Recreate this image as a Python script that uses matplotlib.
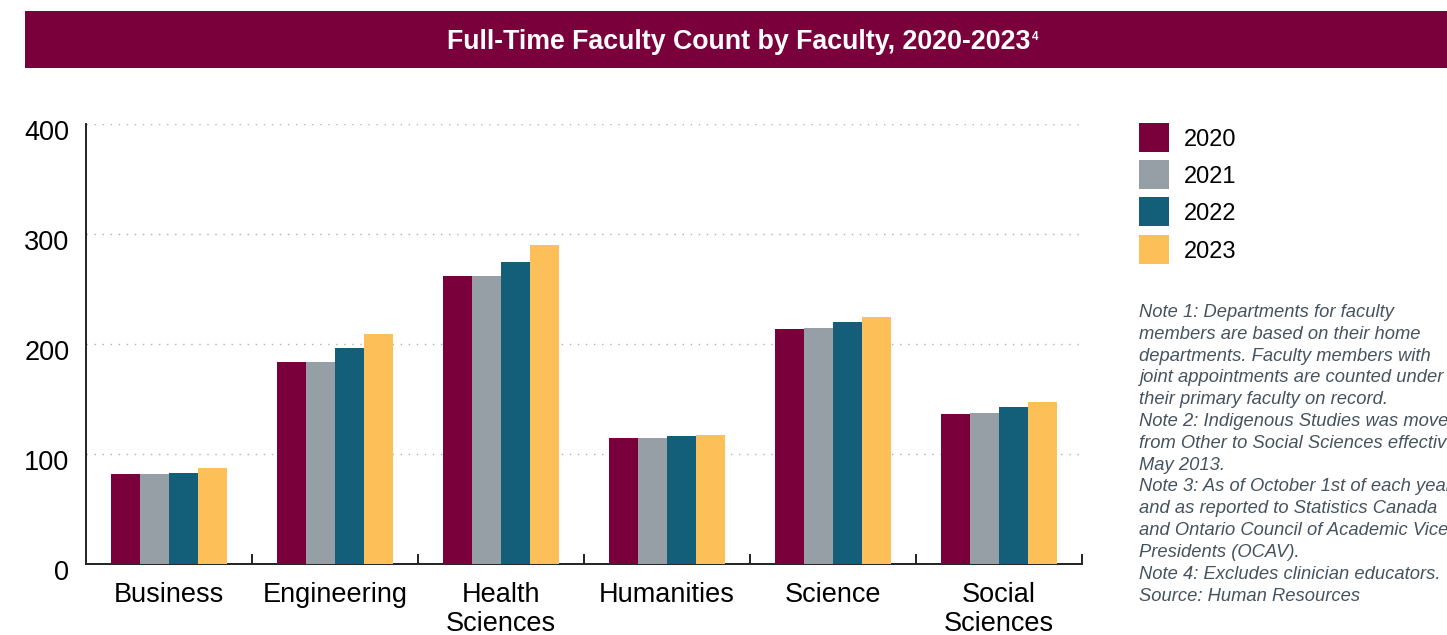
import matplotlib
matplotlib.use("Agg")
import matplotlib.pyplot as plt
from matplotlib.patches import Rectangle
from matplotlib.transforms import ScaledTranslation
import numpy as np

# ---- data ----
categories = ["Business", "Engineering", "Health\nSciences", "Humanities", "Science", "Social\nSciences"]
years = ["2020", "2021", "2022", "2023"]
v2020 = [82, 184, 262, 115, 214, 136]
v2021 = [82, 184, 262, 115, 215, 137]
v2022 = [83, 196, 275, 116, 220, 143]
v2023 = [87, 209, 290, 117, 225, 147]
series = [v2020, v2021, v2022, v2023]
colors = ["#7A003C", "#969FA6", "#135E78", "#FDBF57"]
yticks = [0, 100, 200, 300, 400]
title = "Full-Time Faculty Count by Faculty, 2020-2023"
title_sup = "4"
notes = ("Note 1: Departments for faculty\n"
         "members are based on their home\n"
         "departments. Faculty members with\n"
         "joint appointments are counted under\n"
         "their primary faculty on record.\n"
         "Note 2: Indigenous Studies was moved\n"
         "from Other to Social Sciences effective\n"
         "May 2013.\n"
         "Note 3: As of October 1st of each year,\n"
         "and as reported to Statistics Canada\n"
         "and Ontario Council of Academic Vice-\n"
         "Presidents (OCAV).\n"
         "Note 4: Excludes clinician educators.\n"
         "Source: Human Resources")

plt.rcParams['font.family'] = ['Liberation Sans', 'DejaVu Sans']

W, H = 1447, 635
fig = plt.figure(figsize=(W / 100, H / 100), dpi=100)

# title banner
fig.patches.append(Rectangle((25 / W, 1 - 68 / H), 1 - 25 / W, 57 / H,
                             transform=fig.transFigure, facecolor="#7A003C",
                             edgecolor="none", zorder=0))
t = fig.text(447 / W, 1 - 49 / H, title, color="white", fontsize=19.3,
             fontweight="bold", ha="left", va="baseline")

ax = fig.add_axes([86 / W, 1 - 564 / H, (1082 - 86) / W, (564 - 124) / H])

x = np.arange(len(categories))
w = 0.176
for j, (vals, c) in enumerate(zip(series, colors)):
    ax.bar(x + (j - 1.5) * w, vals, width=w, color=c, label=years[j], zorder=3)

ax.set_xlim(-0.5, len(categories) - 0.5)
ax.set_ylim(0, 400)
ax.set_yticks(yticks)
ax.set_yticklabels([str(v) for v in yticks], fontsize=19.5)
ax.set_xticks(x)
ax.set_xticklabels(categories, fontsize=19.5, linespacing=1.17)
ax.set_xticks(np.arange(0.5, len(categories), 1.0), minor=True)
ax.tick_params(axis="x", which="major", length=0, pad=13)
ax.tick_params(axis="x", which="minor", length=7.5, width=1.4, direction="in", color="#222222")
ax.tick_params(axis="y", length=0, pad=12)
off = ScaledTranslation(0, -5.7 / 100, fig.dpi_scale_trans)
for lab in ax.get_yticklabels():
    lab.set_transform(lab.get_transform() + off)

for s in ["top", "right"]:
    ax.spines[s].set_visible(False)
for s in ["left", "bottom"]:
    ax.spines[s].set_linewidth(1.4)
    ax.spines[s].set_color("#222222")

for yv in yticks[1:]:
    ax.axhline(yv, color="#b0b0b0", lw=1.0, linestyle=(0, (1, 4.8)), zorder=1)

# legend (manual)
for j, (lab, c) in enumerate(zip(years, colors)):
    yc = 137 + j * 37.4
    fig.patches.append(Rectangle((1139 / W, 1 - (yc + 14.5) / H), 30 / W, 29 / H,
                                 transform=fig.transFigure, facecolor=c, edgecolor="none"))
    fig.text(1184 / W, 1 - yc / H, lab, fontsize=17, ha="left", va="center_baseline", color="black")

fig.text(1139 / W, 1 - 304 / H, notes, fontsize=13.2, style="italic", color="#46535E",
         ha="left", va="top", linespacing=1.37)

fig.canvas.draw()
bb = t.get_window_extent()
fig.text((bb.x1 + 2) / W, 1 - 40 / H, title_sup, color="white", fontsize=8.5,
         fontweight="bold", ha="left", va="baseline")

fig.savefig("out.png", dpi=100)
